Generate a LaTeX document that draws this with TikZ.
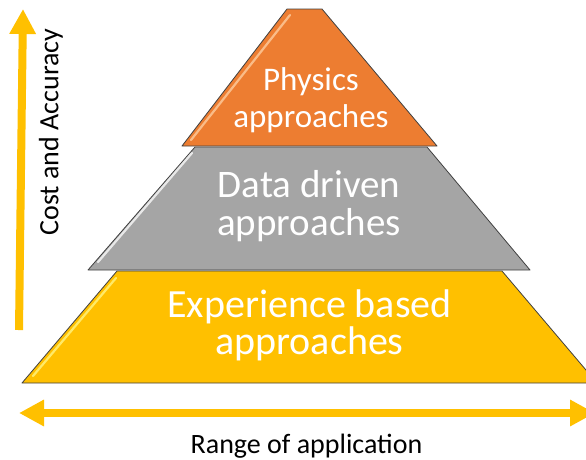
\documentclass[tikz,border=0pt]{standalone}
\usepackage{fontspec}
\setmainfont{Carlito}
\usetikzlibrary{arrows.meta}
\definecolor{physorange}{HTML}{ED7D31}
\definecolor{datagray}{HTML}{A5A5A5}
\definecolor{expyellow}{HTML}{FFC000}
\tikzset{
    >={Triangle[width=25pt,length=25pt]},
    layer/.style={draw=black!75,line width=0.8pt,line join=round},
    gloss/.style={line width=2.2pt,line cap=round,opacity=0.75},
    layer text/.style={text=white,align=center,anchor=base},
    axis arrow/.style={expyellow,line width=8pt},
    axis label/.style={font=\fontsize{28}{30}\selectfont},
}
\begin{document}
\begin{tikzpicture}[x=1pt,y=-1pt]
\clip (0,0) rectangle (586,459);
% pyramid, bottom layer first
\draw[layer,fill=expyellow] (22,383) -- (117,271) -- (502,271) -- (597,383) -- cycle;
\draw[gloss,yellow!45!white] (33,376) -- (116,278);
\draw[layer,fill=datagray] (88,270) -- (195,147) -- (427,147) -- (530,270) -- cycle;
\draw[gloss,white] (98,262) -- (192,153);
\draw[layer,fill=physorange] (182,146) -- (287,9) -- (322,9) -- (437,146) -- cycle;
\draw[gloss,orange!35!white] (191,140) -- (290,15);
% labels
\node[layer text,font=\fontsize{33}{37}\selectfont] (physics) at (311,127) {Physics\\approaches};
\node[layer text,font=\fontsize{39}{38}\selectfont] (data) at (309,235) {Data driven\\approaches};
\node[layer text,font=\fontsize{40}{37}\selectfont] (experience) at (309.5,354) {Experience based\\approaches};
% axes
\coordinate (cost lo) at (19,330);
\coordinate (cost hi) at (23,9);
\coordinate (range lo) at (19,413);
\coordinate (range hi) at (595,413);
\draw[axis arrow,->] (cost lo) -- (cost hi);
\draw[axis arrow,<->] (range lo) -- (range hi);
\node[axis label,rotate=90] (cost) at (51,132) {Cost and Accuracy};
\node[axis label,anchor=base] (range) at (306.5,453) {Range of application};
\end{tikzpicture}
\end{document}
